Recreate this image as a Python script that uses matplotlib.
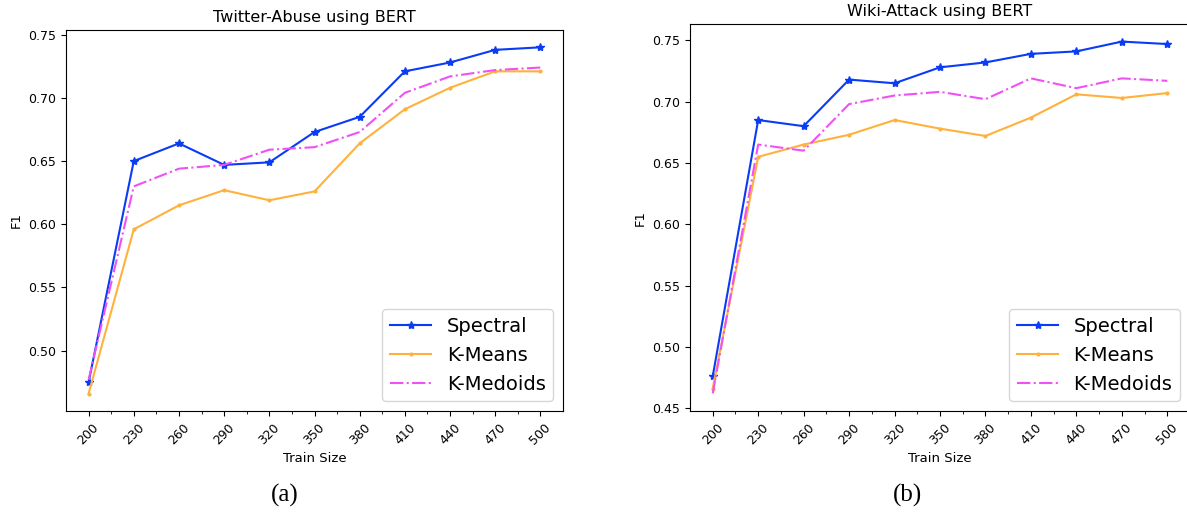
import numpy as np
import matplotlib
matplotlib.use("Agg")
import matplotlib.pyplot as plt

# data
train_sizes = [200, 230, 260, 290, 320, 350, 380, 410, 440, 470, 500]

twitter_spectral = [0.475, 0.650, 0.664, 0.647, 0.649, 0.673, 0.685, 0.721, 0.728, 0.738, 0.740]
twitter_kmeans = [0.466, 0.596, 0.615, 0.627, 0.619, 0.626, 0.664, 0.691, 0.708, 0.721, 0.721]
twitter_kmedoids = [0.477, 0.630, 0.644, 0.647, 0.659, 0.661, 0.673, 0.704, 0.717, 0.722, 0.724]

wiki_spectral = [0.476, 0.685, 0.680, 0.718, 0.715, 0.728, 0.732, 0.739, 0.741, 0.749, 0.747]
wiki_kmeans = [0.466, 0.655, 0.665, 0.673, 0.685, 0.678, 0.672, 0.687, 0.706, 0.703, 0.707]
wiki_kmedoids = [0.462, 0.665, 0.660, 0.698, 0.705, 0.708, 0.702, 0.719, 0.711, 0.719, 0.717]

titles = ["Twitter-Abuse using BERT", "Wiki-Attack using BERT"]
captions = ["(a)", "(b)"]

W, H = 1187, 514
fig = plt.figure(figsize=(W / 100, H / 100), dpi=100)
# axes boxes in pixels (left, top, right, bottom); the right panel runs past the image edge
ax_a = fig.add_axes([66 / W, 1 - 411 / H, (563 - 66) / W, (411 - 30) / H])
ax_b = fig.add_axes([690 / W, 1 - 411 / H, (1190 - 690) / W, (411 - 24) / H])

panels = [
    (ax_a, twitter_spectral, twitter_kmeans, twitter_kmedoids),
    (ax_b, wiki_spectral, wiki_kmeans, wiki_kmedoids),
]

for k, (ax, spec, km, kmed) in enumerate(panels):
    ax.plot(train_sizes, spec, color="#0a3cf5", marker="*", markersize=6, linewidth=1.5, label="Spectral")
    ax.plot(train_sizes, km, color="#ffb13b", marker=".", markersize=4, linewidth=1.5, label="K-Means")
    ax.plot(train_sizes, kmed, color="#f050f5", linestyle="-.", linewidth=1.5, label="K-Medoids")

    ax.set_xticks(train_sizes)
    ax.set_xticks(np.arange(215, 500, 30), minor=True)
    ax.tick_params(axis="x", labelrotation=45, labelsize=9)
    ax.tick_params(axis="y", labelsize=9)
    ax.set_xlabel("Train Size", fontsize=9.5)
    ax.set_ylabel("F1", fontsize=9.5)
    ax.set_title(titles[k], fontsize=11.5)
    ax.legend(loc="lower right", fontsize=14, handlelength=2.1)

fig.text(285 / W, 1 - 495 / H, captions[0], ha="center", va="center",
         fontsize=18, family="Liberation Serif")
fig.text(908 / W, 1 - 495 / H, captions[1], ha="center", va="center",
         fontsize=18, family="Liberation Serif")

fig.savefig("out.png", dpi=100)
